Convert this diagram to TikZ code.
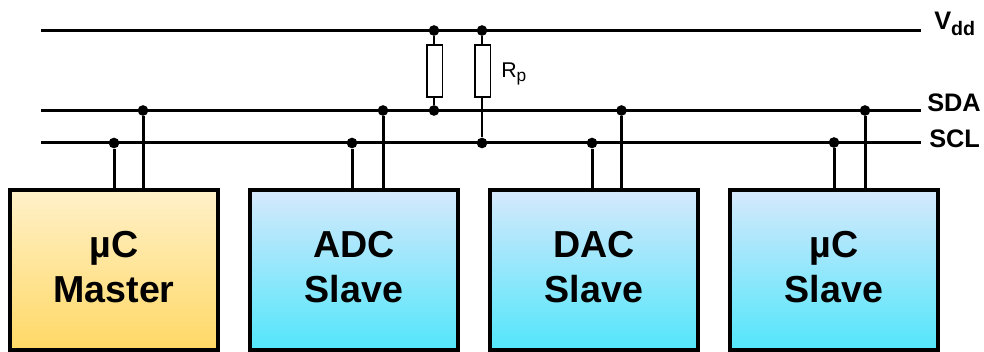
\documentclass[tikz,border=0pt]{standalone}
\usepackage{fontspec}
\setmainfont{Liberation Sans}
\definecolor{busblack}{HTML}{000000}
\definecolor{masterTop}{HTML}{FFF1C9}
\definecolor{masterBot}{HTML}{FFD865}
\definecolor{slaveTop}{HTML}{D6E8FC}
\definecolor{slaveBot}{HTML}{52E6FB}
\tikzset{
  px/.style={x=0.75pt,y=-0.75pt},
  bus/.style={draw=busblack,line width=2.25pt},
  stem/.style={draw=busblack,line width=2.25pt},
  lead/.style={draw=busblack,line width=1.3pt},
  dot/.style={circle,fill=busblack,inner sep=0pt,minimum size=8pt},
  res/.style={draw=busblack,fill=white,line width=1.1pt,rectangle,inner sep=0pt,minimum width=11.6pt,minimum height=39pt},
  chip/.style={draw=busblack,line width=3pt,rectangle,inner sep=0pt,minimum width=156pt,minimum height=120pt},
  master/.style={chip,top color=masterTop,bottom color=masterBot},
  slave/.style={chip,top color=slaveTop,bottom color=slaveBot},
  chiptext/.style={inner sep=0pt,yshift=2.2pt,align=center,font=\fontsize{28.2}{33.75}\selectfont\bfseries},
  buslabel/.style={inner sep=0pt,font=\fontsize{19}{22}\selectfont\bfseries},
}
\begin{document}
\begin{tikzpicture}[px]
\useasboundingbox (0,0) rectangle (984,352);
% bus ends
\coordinate (vl) at (41,30.3);  \coordinate (vr) at (921,30.3);
\coordinate (dl) at (41,110.3); \coordinate (dr) at (921,110.3);
\coordinate (cl) at (41,142.3); \coordinate (cr) at (921,142.3);
\draw[bus] (vl) -- (vr);
\draw[bus] (dl) -- (dr);
\draw[bus] (cl) -- (cr);
% chips
\node[master] (m) at (114,270) {};
\node[slave] (a) at (354,270) {};
\node[slave] (d) at (594,270) {};
\node[slave] (u) at (834,270) {};
\node[chiptext] (mt) at (m.center) {µC\\Master};
\node[chiptext] (at) at (a.center) {ADC\\Slave};
\node[chiptext] (dt) at (d.center) {DAC\\Slave};
\node[chiptext] (ut) at (u.center) {µC\\Slave};
% junctions
\node[dot] (m1) at (114,143) {};
\node[dot] (m2) at (143,110.5) {};
\node[dot] (a1) at (352,143) {};
\node[dot] (a2) at (383,110.5) {};
\node[dot] (d1) at (592,143) {};
\node[dot] (d2) at (621.5,110.5) {};
\node[dot] (u1) at (834,142.5) {};
\node[dot] (u2) at (865,110.5) {};
\draw[stem] (m1) -- (m1 |- m.north);
\draw[stem] (m2) -- (m2 |- m.north);
\draw[stem] (a1) -- (a1 |- a.north);
\draw[stem] (a2) -- (a2 |- a.north);
\draw[stem] (d1) -- (d1 |- d.north);
\draw[stem] (d2) -- (d2 |- d.north);
\draw[stem] (u1) -- (u1 |- u.north);
\draw[stem] (u2) -- (u2 |- u.north);
% pull-ups
\node[dot] (t1) at (434,30.5) {};
\node[dot] (t2) at (482,30.5) {};
\node[dot] (b1) at (434,110.5) {};
\node[dot] (b2) at (482,143) {};
\node[res] (r1) at (434.5,71) {};
\node[res] (r2) at (482.5,71) {};
\draw[lead] (t1) -- (t1 |- r1.north);
\draw[lead] (b1 |- r1.south) -- (b1);
\draw[lead] (t2) -- (t2 |- r2.north);
\draw[lead] (b2 |- r2.south) -- (b2);
% labels
\node[inner sep=0pt,anchor=base west,font=\fontsize{16}{18}\selectfont] (rp) at (501,78) {R\raisebox{-0.35ex}{\fontsize{13}{14}\selectfont p}};
\node[buslabel,anchor=base west] (lv) at (934,30) {V\raisebox{-4.5pt}{\fontsize{14.7}{16}\selectfont\bfseries dd}};
\node[buslabel,anchor=base west] (ls) at (927,112) {SDA};
\node[buslabel,anchor=base west] (lc) at (929,148) {SCL};
\end{tikzpicture}
\end{document}
